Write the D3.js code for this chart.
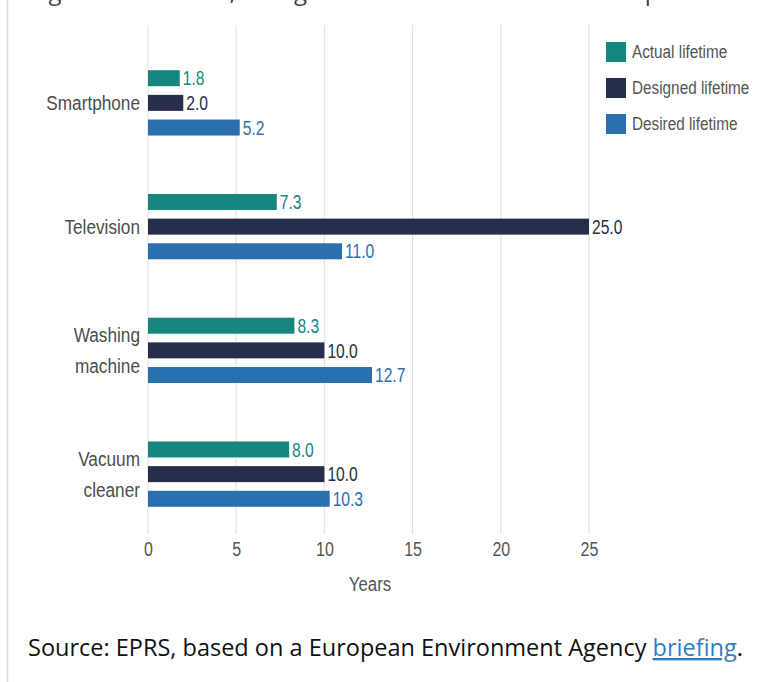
<!DOCTYPE html>
<html>
<head>
<meta charset="utf-8">
<script src="https://cdn.jsdelivr.net/npm/d3@7"></script>
<style>
  body { margin: 0; background: #fff; }
  #chart { position: relative; width: 775px; height: 682px; overflow: hidden; }
  .narrow { font-family: "Liberation Sans", Arial, sans-serif; }
</style>
</head>
<body>
<div id="chart"></div>
<script>
// data
var categories = ["Smartphone", "Television", "Washing machine", "Vacuum cleaner"];
var categoryLines = [["Smartphone"], ["Television"], ["Washing", "machine"], ["Vacuum", "cleaner"]];
var series = ["Actual lifetime", "Designed lifetime", "Desired lifetime"];
var actual = [1.8, 7.3, 8.3, 8.0];
var designed = [2.0, 25.0, 10.0, 10.0];
var desired = [5.2, 11.0, 12.7, 10.3];
var xTicks = [0, 5, 10, 15, 20, 25];
var colors = ["#16877e", "#262e4b", "#2a6fae"];

var values = [actual, designed, desired];

// squeeze a text horizontally, the original uses a condensed face
function condense(sel, f) {
  sel.each(function () {
    var w = this.getComputedTextLength();
    d3.select(this).attr("textLength", w * f).attr("lengthAdjust", "spacingAndGlyphs");
  });
}

var svg = d3.select("#chart")
  .append("svg")
  .attr("width", 775)
  .attr("height", 682);

// left page border
svg.append("line")
  .attr("x1", 7.5).attr("x2", 7.5)
  .attr("y1", 0).attr("y2", 682)
  .attr("stroke", "#dcdcdc")
  .attr("stroke-width", 1.5);

// figure title, scrolled out of view at the top
svg.append("text")
  .attr("x", 28)
  .attr("y", 0)
  .attr("textLength", 724)
  .attr("font-family", "Open Sans, sans-serif")
  .attr("font-size", 24)
  .attr("fill", "#444")
  .text("Figure 4 \u2013 Actual, designed and desired lifetime of products");

var x = d3.scaleLinear().domain([0, 25]).range([148, 589]);
var y = d3.scaleBand().domain(categories).range([41, 536]);
var inner = d3.scaleBand().domain(series).range([-37, 37]);
var barH = 16;

// grid lines
svg.append("g")
  .selectAll("line")
  .data(xTicks)
  .enter()
  .append("line")
  .attr("x1", function (d) { return x(d); })
  .attr("x2", function (d) { return x(d); })
  .attr("y1", 25)
  .attr("y2", 534)
  .attr("stroke", "#e3e3e3")
  .attr("stroke-width", 1.2);

// x axis labels
var xAxis = svg.append("g")
  .attr("transform", "translate(0,549)")
  .call(d3.axisBottom(x).tickValues(xTicks).tickSize(0).tickPadding(0));
xAxis.select(".domain").remove();
xAxis.selectAll("text")
  .attr("class", "narrow")
  .attr("dy", "0.36em")
  .attr("font-size", 20)
  .attr("fill", "#555")
  .call(condense, 0.8);

svg.append("text")
  .attr("class", "narrow")
  .attr("x", 370)
  .attr("y", 584)
  .attr("dy", "0.36em")
  .attr("text-anchor", "middle")
  .attr("font-size", 20)
  .attr("fill", "#555")
  .text("Years")
  .call(condense, 0.84);

// bars
series.forEach(function (s, si) {
  var g = svg.append("g");
  g.selectAll("rect")
    .data(values[si])
    .enter()
    .append("rect")
    .attr("x", x(0))
    .attr("y", function (d, i) {
      return y(categories[i]) + y.bandwidth() / 2 + inner(s) + (inner.bandwidth() - barH) / 2;
    })
    .attr("width", function (d) { return x(d) - x(0); })
    .attr("height", barH)
    .attr("fill", colors[si]);

  g.selectAll("text")
    .data(values[si])
    .enter()
    .append("text")
    .attr("class", "narrow")
    .attr("x", function (d) { return x(d) + 3; })
    .attr("y", function (d, i) {
      return y(categories[i]) + y.bandwidth() / 2 + inner(s) + inner.bandwidth() / 2;
    })
    .attr("dy", "0.36em")
    .attr("font-size", 20)
    .attr("fill", colors[si])
    .text(function (d) { return d.toFixed(1); })
    .call(condense, 0.78);
});

// category labels
categoryLines.forEach(function (lines, i) {
  var cy = y(categories[i]) + y.bandwidth() / 2;
  lines.forEach(function (ln, li) {
    svg.append("text")
      .attr("class", "narrow")
      .attr("text-anchor", "end")
      .attr("font-size", 20)
      .attr("fill", "#4d4d4d")
      .attr("x", 140)
      .attr("y", cy + (li - (lines.length - 1) / 2) * 31)
      .attr("dy", "0.36em")
      .text(ln)
      .call(condense, 0.86);
  });
});

// legend
var legend = svg.append("g").attr("transform", "translate(606,42)");
series.forEach(function (s, i) {
  legend.append("rect")
    .attr("x", 0)
    .attr("y", i * 36)
    .attr("width", 20)
    .attr("height", 20)
    .attr("fill", colors[i]);
  legend.append("text")
    .attr("class", "narrow")
    .attr("x", 26)
    .attr("y", i * 36 + 10)
    .attr("dy", "0.36em")
    .attr("font-size", 18)
    .attr("fill", "#555")
    .text(s)
    .call(condense, 0.85);
});

// source line
var src = svg.append("text")
  .attr("x", 28)
  .attr("y", 656)
  .attr("font-family", "Open Sans, sans-serif")
  .attr("font-size", 23.5)
  .attr("fill", "#111");
src.append("tspan").text("Source: EPRS, based on a European Environment Agency ");
src.append("tspan")
  .attr("fill", "#2f7dc1")
  .attr("text-decoration", "underline")
  .text("briefing");
src.append("tspan").text(".");
</script>
</body>
</html>
